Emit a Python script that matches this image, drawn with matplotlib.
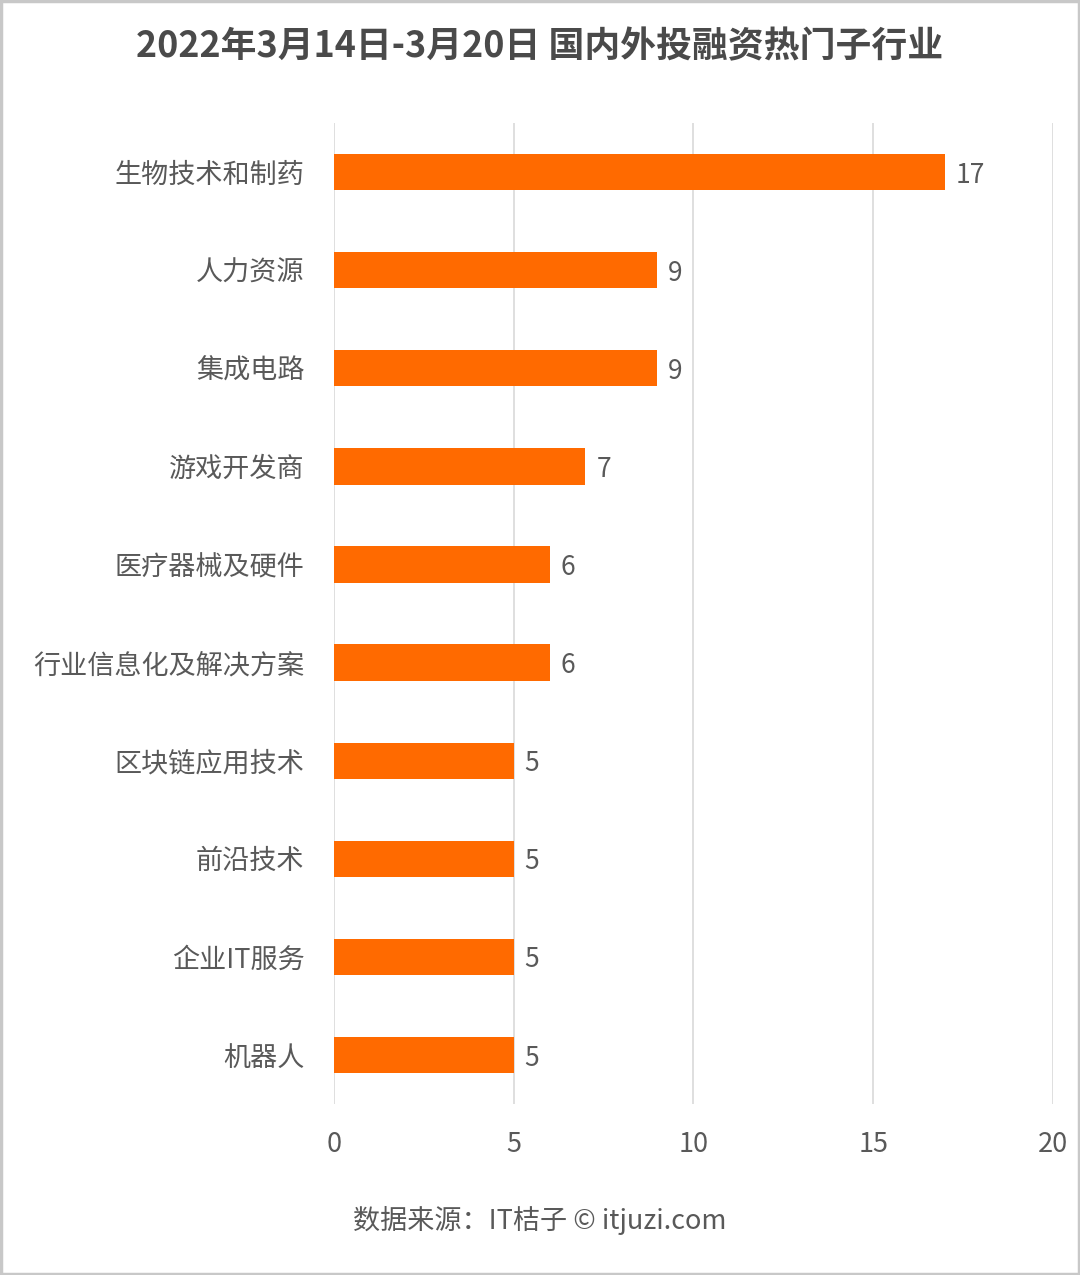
import matplotlib
matplotlib.use('Agg')
import matplotlib.pyplot as plt
from matplotlib.patches import Rectangle

plt.rcParams['font.family'] = ['Noto Sans CJK SC', 'DejaVu Sans']

categories = ['生物技术和制药', '人力资源', '集成电路', '游戏开发商', '医疗器械及硬件',
              '行业信息化及解决方案', '区块链应用技术', '前沿技术', '企业IT服务', '机器人']
counts = [17, 9, 9, 7, 6, 6, 5, 5, 5, 5]
xticks = [0, 5, 10, 15, 20]

bar_color = '#FF6A00'
text_color = '#595959'

fig = plt.figure(figsize=(10.8, 12.75), dpi=100)
ax = fig.add_axes([0.309, 0.134, 0.666, 0.7695])

y = list(range(len(categories)))
ax.barh(y, counts, height=0.37, color=bar_color, zorder=3)
for yi, v in zip(y, counts):
    ax.text(v + 0.3, yi + 0.03, str(v), va='center', ha='left', fontsize=19, color=text_color)

ax.set_ylim(len(categories) - 0.5, -0.5)
ax.set_xlim(0, 20)
ax.set_yticks(y)
ax.set_yticklabels(categories, fontsize=19.5, color=text_color)
ax.set_xticks(xticks)
ax.set_xticklabels([str(t) for t in xticks], fontsize=19.5, color=text_color)
ax.tick_params(axis='both', length=0)
ax.tick_params(axis='y', pad=21)
ax.tick_params(axis='x', pad=19)
ax.grid(axis='x', color='#d9d9d9', linewidth=1.2, zorder=0)
for s in ax.spines.values():
    s.set_visible(False)

fig.text(0.5, 0.963, '2022年3月14日-3月20日 国内外投融资热门子行业', ha='center', va='center',
         fontsize=25.8, fontweight='bold', color='#4a4a4a')
fig.text(0.5, 0.043, '数据来源：IT桔子 © itjuzi.com', ha='center', va='center',
         fontsize=19.5, color=text_color)

fig.patches.append(Rectangle((0.001, 0.001), 0.998, 0.998, transform=fig.transFigure,
                             fill=False, edgecolor='#c8c8c8', linewidth=2.5))

fig.savefig('out.png', dpi=100)
